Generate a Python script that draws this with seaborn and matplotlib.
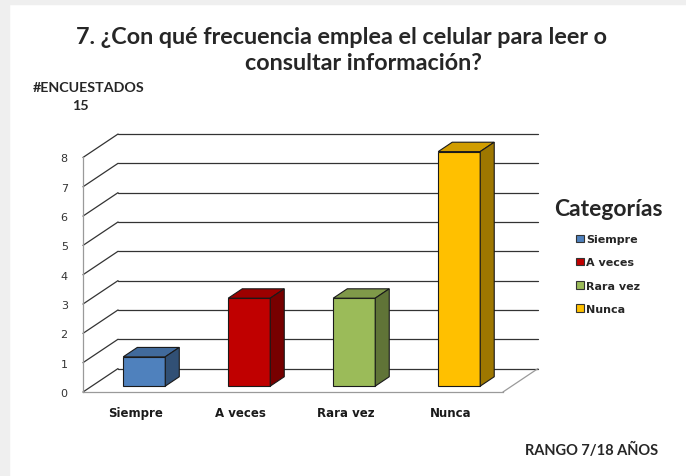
import matplotlib
matplotlib.use("Agg")
import matplotlib.pyplot as plt
import matplotlib.colors as mcolors
from matplotlib.patches import Polygon, Rectangle
import seaborn as sns

# --- data ---
categories = ["Siempre", "A veces", "Rara vez", "Nunca"]
counts = [1, 3, 3, 8]
bar_colors = ["#4F81BD", "#C00000", "#9BBB59", "#FFC000"]
y_ticks = list(range(0, 9))

title_line1 = "7. ¿Con qué frecuencia emplea el celular para leer o"
title_line2 = "consultar información?"

# --- 3D look parameters (wall depth in data units) ---
DX, DY = 0.334, 0.80          # depth of back wall
B0, B1 = 0.25, 0.65           # bar sits between these fractions of the depth
BAR_W = 0.4

sns.set_style("white")
plt.rcParams["font.family"] = ["DejaVu Sans"]

fig = plt.figure(figsize=(6.86, 4.77), dpi=100)
# faint gray frame at the left/top of the screenshot
fig.patches.append(Rectangle((0, 0), 9 / 686, 1, transform=fig.transFigure,
                             color="#efefef", zorder=-10))
fig.patches.append(Rectangle((0, 1 - 5 / 477), 1, 5 / 477, transform=fig.transFigure,
                             color="#efefef", zorder=-10))

ax = fig.add_axes([83 / 686, 84 / 477, 455 / 686, 258 / 477])

palette = dict(zip(categories, bar_colors))
sns.barplot(x=categories, y=counts, hue=categories, palette=palette,
            width=BAR_W, saturation=1, legend=True, ax=ax, zorder=3)

ax.set_xlim(-0.5, 3.5 + DX)
ax.set_ylim(0, 8 + DY)

# back wall gridlines + diagonal connectors
grid_c = "#333333"
for k in y_ticks:
    ax.plot([-0.5, -0.5 + DX], [k, k + DY], color=grid_c, lw=0.9, zorder=1, clip_on=False)
    ax.plot([-0.5 + DX, 3.5 + DX], [k + DY, k + DY], color=grid_c, lw=0.9, zorder=1, clip_on=False)
# right floor edge
ax.plot([3.5, 3.5 + DX], [0, DY], color="#9a9a9a", lw=0.9, zorder=1, clip_on=False)

# turn flat bars into boxes
for patch, col in zip(ax.patches[:len(counts)], bar_colors):
    x0 = patch.get_x() + B0 * DX
    w = patch.get_width()
    h = patch.get_height()
    y0 = B0 * DY
    patch.set_x(x0)
    patch.set_y(y0)
    patch.set_edgecolor("#1a1a1a")
    patch.set_linewidth(0.8)
    x1, y1 = x0 + w, y0 + h
    ddx, ddy = (B1 - B0) * DX, (B1 - B0) * DY
    rgb = mcolors.to_rgb(col)
    top_c = tuple(c * 0.82 for c in rgb)
    side_c = tuple(c * 0.62 for c in rgb)
    ax.add_patch(Polygon([(x0, y1), (x0 + ddx, y1 + ddy), (x1 + ddx, y1 + ddy), (x1, y1)],
                         closed=True, facecolor=top_c, edgecolor="#1a1a1a", lw=0.8, zorder=3))
    ax.add_patch(Polygon([(x1, y0), (x1 + ddx, y0 + ddy), (x1 + ddx, y1 + ddy), (x1, y1)],
                         closed=True, facecolor=side_c, edgecolor="#1a1a1a", lw=0.8, zorder=3))

# axes / spines
for s in ["top", "right"]:
    ax.spines[s].set_visible(False)
ax.spines["left"].set_bounds(0, 8)
ax.spines["bottom"].set_bounds(-0.5, 3.5)
for s in ["left", "bottom"]:
    ax.spines[s].set_color("#9a9a9a")
    ax.spines[s].set_linewidth(0.9)

ax.set_yticks(y_ticks)
ax.set_yticklabels([str(v) for v in y_ticks], fontsize=8, color="#333333")
ax.tick_params(axis="y", length=3, color="#9a9a9a", pad=8)
ax.set_xticks(range(len(categories)))
ax.set_xticklabels(categories, fontsize=8.5, fontweight="bold", color="#1a1a1a")
ax.set_xticks([-0.5, 0.5, 1.5, 2.5, 3.5], minor=True)
ax.tick_params(axis="x", which="major", length=0, pad=10)
ax.tick_params(axis="x", which="minor", length=5, color="#9a9a9a")
ax.set_xlabel("")
ax.set_ylabel("")

# legend
handles, labels = ax.get_legend_handles_labels()
leg = ax.legend(handles, labels, title="Categorías", loc="upper left",
                bbox_to_anchor=(544 / 686, 1 - 189 / 477), bbox_transform=fig.transFigure,
                frameon=False, handlelength=0.7, handleheight=0.7, handletextpad=0.2,
                labelspacing=1.18, prop={"weight": "bold", "size": 8})
leg.get_title().set_fontsize(16.5)
leg.get_title().set_fontweight("bold")
leg.get_title().set_family("Lato")
leg._legend_box.sep = 11
for h in leg.legend_handles:
    h.set_edgecolor("#333333")
    h.set_linewidth(0.8)

# texts
fig.text(342 / 686, 1 - 38 / 477, title_line1, ha="center", va="center",
         fontsize=16.8, fontweight="bold", family="Lato")
fig.text(363 / 686, 1 - 63 / 477, title_line2, ha="center", va="center",
         fontsize=16.8, fontweight="bold", family="Lato")
fig.text(89 / 686, 1 - 88 / 477, "#ENCUESTADOS", ha="center", va="center",
         fontsize=10.3, fontweight="bold", family="Lato")
fig.text(80 / 686, 1 - 106 / 477, "15", ha="center", va="center",
         fontsize=10.3, fontweight="bold", family="Lato")
fig.text(592 / 686, 1 - 450 / 477, "RANGO 7/18 AÑOS", ha="center", va="center",
         fontsize=10.5, fontweight="bold", family="Lato")

fig.savefig("out.png", dpi=100)
